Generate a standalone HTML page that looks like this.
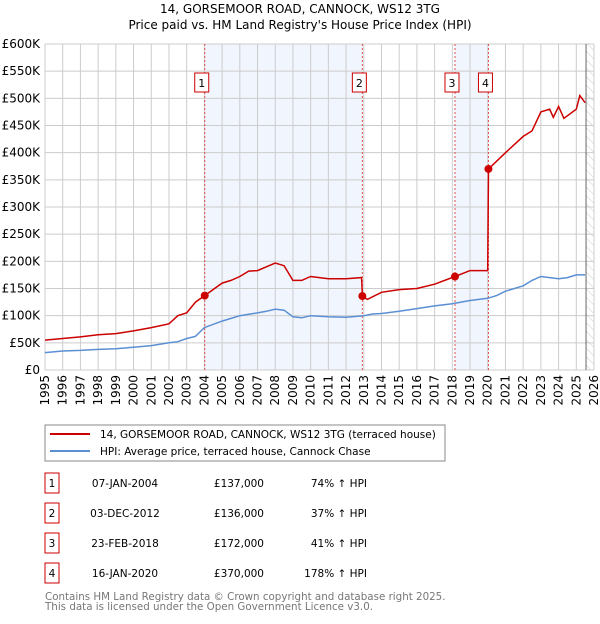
<!DOCTYPE html>
<html><head><meta charset="utf-8"><style>
body{margin:0;background:#fff;font-family:"DejaVu Sans","Liberation Sans",sans-serif;}
svg text{font-family:"DejaVu Sans","Liberation Sans",sans-serif;}
</style></head><body>
<svg id="c" width="600" height="620" xmlns="http://www.w3.org/2000/svg">
<defs><pattern id="hatch" width="6" height="6" patternUnits="userSpaceOnUse" patternTransform="rotate(-45)"><line x1="0" y1="0" x2="0" y2="6" stroke="#ccc" stroke-width="1"/></pattern></defs>
<text x="300" y="13" text-anchor="middle" font-size="12">14, GORSEMOOR ROAD, CANNOCK, WS12 3TG</text>
<text x="300" y="29" text-anchor="middle" font-size="12">Price paid vs. HM Land Registry's House Price Index (HPI)</text>
<g id="plot"></g>
<rect x="45" y="425" width="400" height="36" fill="#fff" stroke="#888"/>
<line x1="50" y1="434" x2="90" y2="434" stroke="#cc0000" stroke-width="2"/>
<text x="100" y="438" font-size="10.5">14, GORSEMOOR ROAD, CANNOCK, WS12 3TG (terraced house)</text>
<line x1="50" y1="451" x2="90" y2="451" stroke="#5b8fd4" stroke-width="2"/>
<text x="100" y="455" font-size="10.5">HPI: Average price, terraced house, Cannock Chase</text>
<g id="table"></g>
<text x="45" y="600" font-size="10.3" fill="#777">Contains HM Land Registry data © Crown copyright and database right 2025.</text>
<text x="45" y="610" font-size="10.3" fill="#777">This data is licensed under the Open Government Licence v3.0.</text>
</svg>
<script>
const hpiYears=[1995,1996,1997,1998,1999,2000,2001,2002,2002.5,2003,2003.5,2004,2005,2005.5,2006,2007,2007.5,2008,2008.5,2009,2009.5,2010,2011,2012,2013,2013.5,2014,2015,2016,2017,2018,2019,2020,2020.5,2021,2022,2022.5,2023,2023.5,2024,2024.5,2025,2025.5];
const hpiValues=[32,35,36,38,39,42,45,50,52,58,62,78,90,95,100,105,108,112,110,98,96,100,98,97,100,103,104,108,113,118,122,128,132,137,145,155,165,172,170,168,170,175,175];
const priceYears=[1995,1996,1997,1998,1999,2000,2001,2002,2002.5,2003,2003.5,2004.02,2005,2005.5,2006,2006.5,2007,2007.5,2008,2008.5,2009,2009.5,2010,2011,2012,2012.88,2012.92,2013.2,2014,2015,2016,2017,2018.15,2019,2020.0,2020.04,2021,2022,2022.5,2023,2023.5,2023.7,2024,2024.3,2025,2025.2,2025.5];
const priceValues=[55,58,61,65,67,72,78,85,100,105,125,137,160,165,172,182,183,190,197,192,165,165,172,168,168,170,136,130,143,148,150,158,172,183,183,370,400,430,440,475,480,465,485,463,480,505,492];
const saleYears=[2004.02,2012.92,2018.15,2020.04];
const saleValues=[137,136,172,370];
const saleLabels=["1","2","3","4"];
const saleDates=["07-JAN-2004","03-DEC-2012","23-FEB-2018","16-JAN-2020"];
const salePrices=["£137,000","£136,000","£172,000","£370,000"];
const saleHpi=["74% ↑ HPI","37% ↑ HPI","41% ↑ HPI","178% ↑ HPI"];
const yTicks=[0,50,100,150,200,250,300,350,400,450,500,550,600];
const xTicks=[1995,1996,1997,1998,1999,2000,2001,2002,2003,2004,2005,2006,2007,2008,2009,2010,2011,2012,2013,2014,2015,2016,2017,2018,2019,2020,2021,2022,2023,2024,2025,2026];
const X0=45,X1=594,Y0=370,Y1=44;
const xs=v=>X0+(v-1995)/(2026-1995)*(X1-X0);
const ys=v=>Y0-v/600*(Y0-Y1);
const NS="http://www.w3.org/2000/svg";
const plot=document.getElementById('plot');
function mk(tag,attrs,parent,text){const e=document.createElementNS(NS,tag);for(const k in attrs)e.setAttribute(k,attrs[k]);if(text!==undefined)e.textContent=text;(parent||plot).appendChild(e);return e;}
let e;
e=mk('rect',{x:X0,y:Y1,width:X1-X0,height:Y0-Y1,fill:'#fff'});


for(let i=0;i<saleYears.length;i+=2){
 e=mk('rect',{x:xs(saleYears[i]),y:Y1,width:xs(saleYears[i+1])-xs(saleYears[i]),height:Y0-Y1,fill:'#eef3fc',opacity:0.8});
 
 
}
e=mk('rect',{x:xs(2025.55),y:Y1,width:X1-xs(2025.55),height:Y0-Y1,fill:'url(#hatch)'});


xTicks.forEach(t=>{
 e=mk('line',{x1:xs(t),x2:xs(t),y1:Y1,y2:Y0,stroke:'#ccc','stroke-width':1});
 
 
 const tx=xs(t)+4;
 e=mk('text',{x:tx,y:375,'font-size':12,transform:`rotate(-90 ${tx} 375)`,'text-anchor':'end'},plot,String(t));
 
 
});
yTicks.forEach(t=>{
 e=mk('line',{x1:X0,x2:X1,y1:ys(t),y2:ys(t),stroke:'#ccc','stroke-width':1});
 
 
 e=mk('text',{x:40,y:ys(t)+4,'font-size':12,'text-anchor':'end'},plot,t===0?'£0':'£'+t+'K');
 
 
});
e=mk('line',{x1:xs(2025.55),x2:xs(2025.55),y1:Y1,y2:Y0,stroke:'#666','stroke-width':1});


saleYears.forEach((y,i)=>{
 e=mk('line',{x1:xs(y),x2:xs(y),y1:Y1,y2:Y0,stroke:'#e05050','stroke-width':1,'stroke-dasharray':'2,2'});
 
 
 e=mk('rect',{x:xs(y)-10,y:73,width:14,height:19,fill:'#fff',stroke:'#cc0000'});
 
 
 e=mk('text',{x:xs(y)-3,y:87,'font-size':11,'text-anchor':'middle'},plot,saleLabels[i]);
 
 
});
const path=(xa,va)=>xa.map((x,i)=>(i?'L':'M')+xs(x).toFixed(1)+','+ys(va[i]).toFixed(1)).join(' ');
e=mk('path',{d:path(hpiYears,hpiValues),fill:'none',stroke:'#5b8fd4','stroke-width':1.5});


e=mk('path',{d:path(priceYears,priceValues),fill:'none',stroke:'#cc0000','stroke-width':1.5});


saleYears.forEach((y,i)=>{
 e=mk('circle',{cx:xs(y),cy:ys(saleValues[i]),r:4,fill:'#cc0000'});
 
 
});
const tbl=document.getElementById('table');
saleLabels.forEach((l,i)=>{
 const cy=483+i*30;
 e=mk('rect',{x:45,y:cy-10,width:14,height:20,fill:'#fff',stroke:'#cc0000'},tbl);
 
 
 e=mk('text',{x:52,y:cy+4,'font-size':10.5,'text-anchor':'middle'},tbl,l);
 
 
 e=mk('text',{x:125,y:cy+4,'font-size':10.5,'text-anchor':'middle'},tbl,saleDates[i]);
 
 
 e=mk('text',{x:264,y:cy+4,'font-size':10.5,'text-anchor':'end'},tbl,salePrices[i]);
 
 
 e=mk('text',{x:367,y:cy+4,'font-size':10.5,'text-anchor':'end'},tbl,saleHpi[i]);
 
 
});
</script>
</body></html>
